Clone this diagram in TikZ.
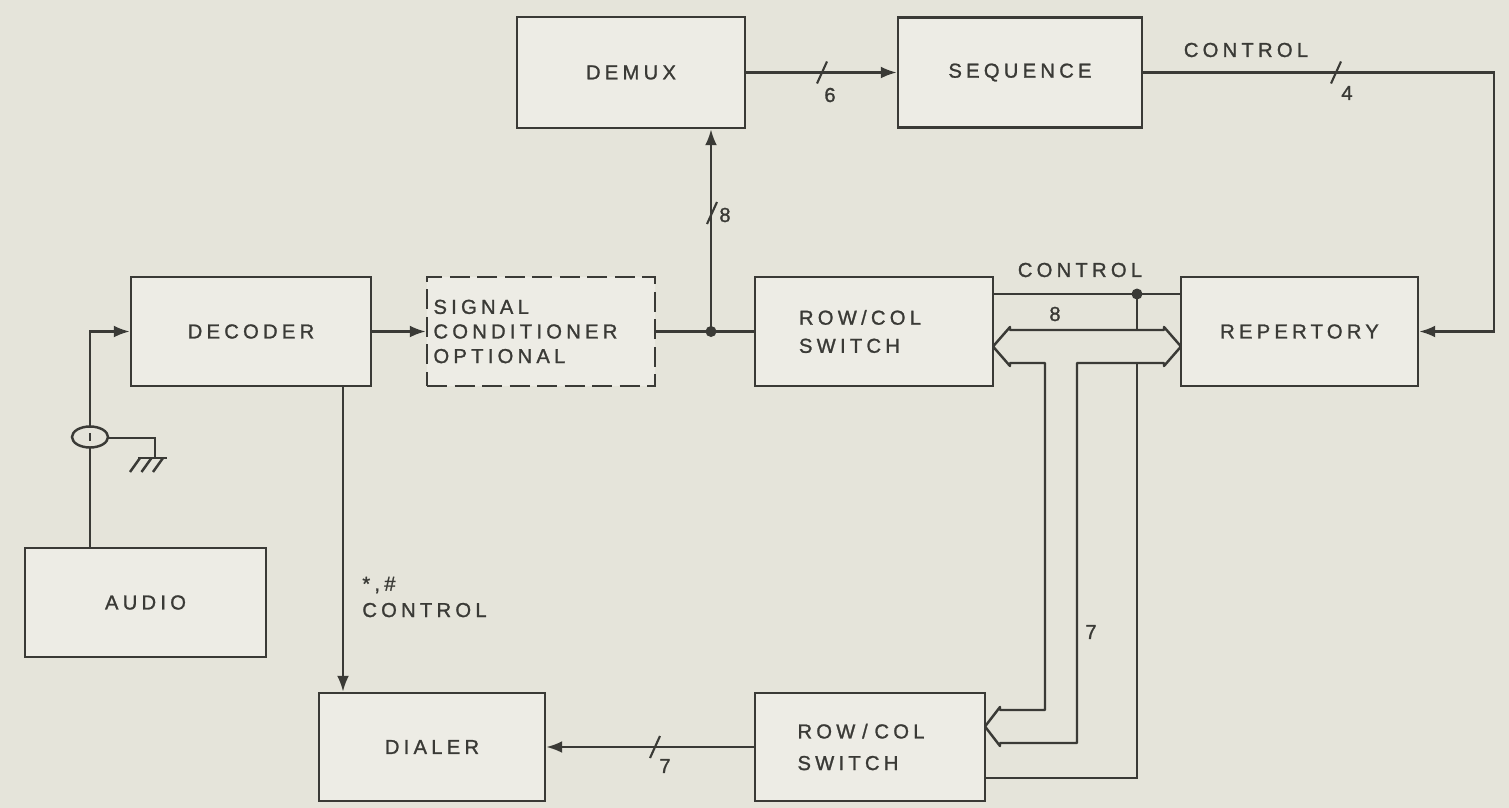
\documentclass[tikz,border=0pt]{standalone}
\usepackage{fontspec}
\setmainfont{Liberation Sans}[LetterSpace=21,FakeBold=1.2]
\usepackage{tikz}
\usetikzlibrary{arrows.meta}
\definecolor{paper}{RGB}{229,228,218}
\definecolor{ink}{RGB}{58,58,54}
\newcommand{\busmark}[1]{\draw[ink, line width=1.2pt] (#1) ++(-0.1,-0.22) -- ++(0.2,0.44);}

\begin{document}
\begin{tikzpicture}[
  font=\fontsize{11.5}{14}\selectfont,
  box/.style={draw=ink, fill=paper!70!white, line width=1.4pt, text=ink,
    minimum height=2.18cm, inner sep=0pt},
  wire/.style={draw=ink, line width=1.4pt},
  arr/.style={wire, -{Latex[length=3.2mm,width=2.4mm]}},
  lbl/.style={text=ink, inner sep=0pt}]
  % paper
  \fill[paper] (0,0) rectangle (30.18,-16.16);
  \useasboundingbox (0,0) rectangle (30.18,-16.16);
  % blocks
  \node[box, minimum width=4.56cm, minimum height=2.22cm] (demux) at (12.62,-1.45) {DEMUX};
  \node[box, minimum width=4.88cm, minimum height=2.2cm] (seq) at (20.40,-1.45) {SEQUENCE};
  \node[box, minimum width=4.8cm] (dec) at (5.02,-6.63) {DECODER};
  \node[box, dash pattern=on 0.4cm off 0.15cm, minimum width=4.56cm,
    text width=4.3cm, align=left] (cond) at (10.82,-6.63)
    {SIGNAL\\CONDITIONER\\OPTIONAL};
  \node[box, minimum width=4.76cm, text width=3.0cm, align=left] (rcs1)
    at (17.48,-6.63) {ROW/COL\\[2pt]SWITCH};
  \node[box, minimum width=4.74cm] (rep) at (25.99,-6.63) {REPERTORY};
  \node[box, minimum width=4.82cm] (audio) at (2.91,-12.05) {AUDIO};
  \node[box, minimum width=4.52cm, minimum height=2.16cm] (dial) at (8.64,-14.94) {DIALER};
  \node[box, minimum width=4.6cm, minimum height=2.16cm, text width=2.9cm,
    align=left] (rcs2) at (17.40,-14.94) {ROW / COL\\[4pt]SWITCH};
  % demux -> sequence
  \draw[arr] (demux.east) -- (seq.west);
  \busmark{16.44,-1.45}
  \node[lbl] (n6) at (16.6,-1.9) {6};
  % sequence control -> repertory
  \coordinate (cturn) at (29.88,-1.45);
  \draw[arr] (seq.east) -- (cturn) |- (rep.east);
  \node[lbl] (ctl1) at (24.92,-1.0) {CONTROL};
  \busmark{26.72,-1.45}
  \node[lbl] (n4) at (26.94,-1.86) {4};
  % decoder -> conditioner -> switch, tap to demux
  \draw[arr] (dec.east) -- (cond.west);
  \coordinate (jn) at (14.22,-6.63);
  \draw[wire] (cond.east) -- (jn) -- (rcs1.west);
  \fill[ink] (jn) circle (0.11);
  \draw[arr] (jn) -- (jn |- demux.south);
  \busmark{14.24,-4.26}
  \node[lbl] (n8a) at (14.5,-4.3) {8};
  % audio input with coax and ground
  \coordinate (coax) at (1.8,-8.74);
  \draw[arr] (audio.north -| coax) |- (dec.west);
  \draw[wire] (2.16,-8.76) -- (3.1,-8.76) -- (3.1,-9.16);
  \draw[wire] (2.76,-9.16) -- (3.34,-9.16);
  \foreach \gx in {2.8,3.03,3.26}
    \draw[wire] (\gx,-9.16) -- ++(-0.2,-0.28);
  \filldraw[draw=ink, fill=paper, line width=1.4pt] (coax) ellipse (0.36cm and 0.21cm);
  \draw[wire] (1.8,-8.66) -- (1.8,-8.82);
  % decoder -> dialer
  \draw[arr] ([xshift=1.84cm]dec.south) -- ([xshift=1.84cm]dec.south |- dial.north);
  \node[lbl, anchor=west, align=left] (ctl3) at (7.24,-11.94) {*,\#\\[1pt]CONTROL};
  % switch -> dialer
  \draw[arr] (rcs2.west) -- (dial.east);
  \busmark{13.1,-14.94}
  \node[lbl] (n7a) at (13.3,-15.32) {7};
  % control line between switches and repertory
  \coordinate (cdot) at (22.74,-5.88);
  \coordinate (cbot) at (22.74,-15.56);
  \draw[wire] (rcs1.east |- cdot) -- (rep.west |- cdot);
  \draw[wire] (cdot) -- (cbot) -- (cbot -| rcs2.east);
  \fill[ink] (cdot) circle (0.11);
  \node[lbl] (ctl2) at (21.6,-5.4) {CONTROL};
  % data bus
  \filldraw[draw=ink, fill=paper, line width=1.4pt, line join=round]
    (19.86,-6.93) -- (20.2,-6.54) -- (20.2,-6.6) -- (23.28,-6.6) -- (23.28,-6.54)
    -- (23.62,-6.93) -- (23.28,-7.32) -- (23.28,-7.26) -- (21.54,-7.26)
    -- (21.54,-14.86) -- (20.0,-14.86) -- (20.0,-14.92) -- (19.7,-14.53)
    -- (20.0,-14.14) -- (20.0,-14.2) -- (20.9,-14.2) -- (20.9,-7.26)
    -- (20.2,-7.26) -- (20.2,-7.32) -- cycle;
  \node[lbl] (n8b) at (21.1,-6.28) {8};
  \node[lbl] (n7b) at (21.82,-12.64) {7};
\end{tikzpicture}
\end{document}
